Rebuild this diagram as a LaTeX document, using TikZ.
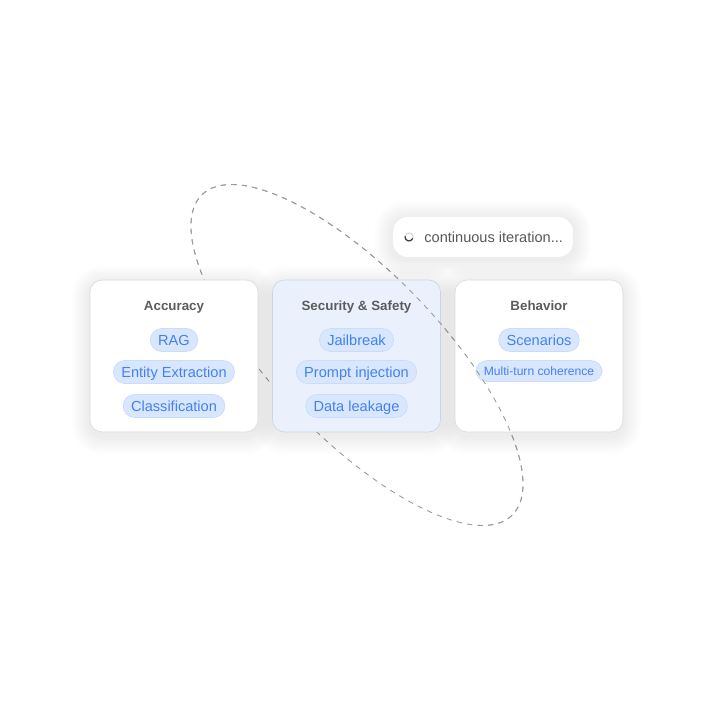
\documentclass[tikz,border=0pt]{standalone}
\usepackage{fontspec}
\setmainfont{Liberation Sans}
\usetikzlibrary{calc}
\definecolor{pillfill}{HTML}{D8E7FD}
\definecolor{pilldraw}{HTML}{C8DCFB}
\definecolor{pilltext}{HTML}{4480F4}
\definecolor{titletext}{HTML}{5C5C5C}
\definecolor{cardline}{HTML}{DCDCDC}
\definecolor{midfill}{HTML}{EAF1FD}
\definecolor{midline}{HTML}{CAD6E6}
\definecolor{orbit}{HTML}{9A9A9A}
% soft shadow: centre, half width, half height, drop
\newcommand{\softshade}[4]{%
  \foreach \g in {2,4,...,18} {%
    \fill[black,opacity=0.006,rounded corners=0.24cm+\g*0.02cm]
      ($(#1)+(-#2-\g,-#3-\g+#4)$) rectangle ($(#1)+(#2+\g,#3+\g+#4)$);
  }}

\begin{document}
\begin{tikzpicture}
[x=0.02cm,y=-0.02cm,%
  card/.style={draw=cardline,fill=white,rounded corners=0.24cm,minimum width=3.36cm,minimum height=3.04cm},%
  title/.style={text=titletext,font=\fontsize{7.6pt}{9pt}\selectfont\bfseries,text height=5.6pt,text depth=0.2pt},%
  pill/.style={draw=pilldraw,fill=pillfill,text=pilltext,rounded corners=0.23cm,minimum height=0.46cm,inner xsep=4.5pt,inner ysep=0pt,%
    font=\fontsize{8.3pt}{9pt}\selectfont,text height=6pt,text depth=0.2pt},%
  orbitline/.style={draw=orbit,dashed,dash pattern=on 3pt off 3pt,line width=0.5pt}]
\useasboundingbox[fill=white] (0,0) rectangle (712,712);
\coordinate (acc c) at (174,356);
\coordinate (sec c) at (356.5,356);
\coordinate (beh c) at (539,356);
\coordinate (iter c) at (483,237);
% orbit, back half
\begin{scope}[shift={(357,355)},rotate=-46]
  \draw[orbitline] (0,0) ellipse [x radius=223,y radius=83];
\end{scope}
% iteration label
\softshade{iter c}{90}{20}{2}
\node (iterbg) at (iter c) [fill=white,rounded corners=0.3cm,minimum width=3.6cm,minimum height=0.8cm] {};
\coordinate (spin) at (409,237);
\draw[gray!30,line width=0.7pt] (spin) circle (4);
\draw[black!75,line width=0.7pt] (spin) ++(20:4) arc [start angle=20,end angle=190,radius=4];
\node (iter) at (424,237) [anchor=west,inner sep=0pt,text=black!65,font=\fontsize{8.3pt}{9pt}\selectfont] {continuous iteration...};
% cards
\softshade{acc c}{84}{76}{4}
\softshade{sec c}{84}{76}{4}
\softshade{beh c}{84}{76}{4}
\node (acc) at (acc c) [card] {};
\node (sec) at (sec c) [card,fill=midfill,draw=midline] {};
\node (beh) at (beh c) [card] {};
\node (acct) at (174,306) [title] {Accuracy};
\node (sect) at (356.5,306) [title] {Security \& Safety};
\node (beht) at (539,306) [title] {Behavior};
\node (rag) at (174,340) [pill] {RAG};
\node (ent) at (174,372) [pill] {Entity Extraction};
\node (cls) at (174,406) [pill] {Classification};
\node (jail) at (356.5,340) [pill] {Jailbreak};
\node (prompt) at (356.5,372) [pill] {Prompt injection};
\node (leak) at (356.5,406) [pill] {Data leakage};
\node (scen) at (539,340) [pill] {Scenarios};
\node (multi) at (539,371) [pill,minimum height=0.42cm,font=\fontsize{6.9pt}{8pt}\selectfont,text height=5pt,text depth=0.2pt] {Multi-turn coherence};
% orbit, front half
\begin{scope}[shift={(357,355)},rotate=-46]
  \draw[orbitline] (138:223 and 83) arc [start angle=138,end angle=380,x radius=223,y radius=83];
\end{scope}
\end{tikzpicture}
\end{document}
